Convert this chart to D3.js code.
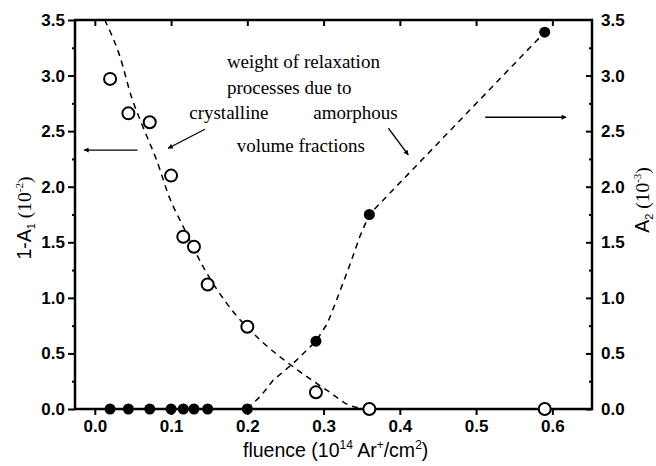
<!DOCTYPE html>
<html>
<head>
<meta charset="utf-8">
<script src="https://cdn.jsdelivr.net/npm/d3@7"></script>
<style>
  body { margin: 0; background: #fff; }
</style>
</head>
<body>
<div id="maViz"></div>
<script>
// donnees
const fluence = [0.02, 0.044, 0.072, 0.1, 0.116, 0.13, 0.148, 0.2, 0.29, 0.36, 0.59];
const crist  = [2.97, 2.66, 2.58, 2.10, 1.55, 1.46, 1.12, 0.74, 0.15, 0.0, 0.0]; // 1-A1 (10^-2)
const amorph = [0, 0, 0, 0, 0, 0, 0, 0, 0.61, 1.75, 3.39];                     // A2 (10^-3)

// courbes en tirets (points releves le long des tirets)
const fitCristX = [0.013, 0.033, 0.048, 0.063, 0.081, 0.098, 0.116, 0.142, 0.173, 0.217, 0.26, 0.304, 0.335, 0.357];
const fitCristY = [3.5, 3.17, 2.81, 2.54, 2.24, 1.90, 1.64, 1.28, 0.95, 0.62, 0.38, 0.17, 0.03, 0.0];
const fitAmorX  = [0.2, 0.218, 0.234, 0.26, 0.29, 0.305, 0.317, 0.333, 0.348, 0.36, 0.59];
const fitAmorY  = [0.0, 0.12, 0.26, 0.41, 0.61, 0.77, 0.98, 1.27, 1.56, 1.75, 3.39];

const xTicks = [0, 0.1, 0.2, 0.3, 0.4, 0.5, 0.6];
const yTicks = [0, 0.5, 1.0, 1.5, 2.0, 2.5, 3.0, 3.5];
const yMinor = [0.25, 0.75, 1.25, 1.75, 2.25, 2.75, 3.25];

// dimensions
const W = 656, H = 466;
const margin = {top: 20, right: 64, bottom: 57, left: 75};
const width = W - margin.left - margin.right;
const height = H - margin.top - margin.bottom;

const svg = d3.select("#maViz").append("svg")
  .attr("width", W).attr("height", H);

const g = svg.append("g")
  .attr("transform", `translate(${margin.left},${margin.top})`);

// echelles
const x = d3.scaleLinear().domain([-0.026, 0.652]).range([0, width]);
const yL = d3.scaleLinear().domain([0, 3.5]).range([height, 0]);
const yR = d3.scaleLinear().domain([0, 3.5]).range([height, 0]);

const fmt = d3.format(".1f");
const tickFont = "Liberation Sans, Arial, sans-serif";
const serif = "Liberation Serif, Times New Roman, serif";

function styleAxis(sel) {
  sel.select(".domain").remove();
  sel.selectAll("line").attr("stroke", "#000").attr("stroke-width", 2);
  sel.selectAll("text")
    .attr("font-family", tickFont)
    .attr("font-size", 17)
    .attr("font-weight", "bold")
    .attr("fill", "#000");
}

// axe X bas
g.append("g")
  .attr("transform", `translate(0,${height})`)
  .call(d3.axisBottom(x).tickValues(xTicks).tickFormat(fmt).tickSize(6).tickPadding(5))
  .call(styleAxis);

// axe X haut (ticks vers l'interieur)
g.append("g")
  .call(d3.axisBottom(x).tickValues(xTicks).tickFormat("").tickSize(6))
  .call(styleAxis);

// axe Y gauche
g.append("g")
  .call(d3.axisLeft(yL).tickValues(yTicks).tickFormat(fmt).tickSize(7).tickPadding(3))
  .call(styleAxis);
g.append("g")
  .call(d3.axisLeft(yL).tickValues(yMinor).tickFormat("").tickSize(3))
  .call(styleAxis);

// axe Y droit (ticks vers l'interieur, labels a droite)
g.append("g")
  .attr("transform", `translate(${width},0)`)
  .call(d3.axisLeft(yR).tickValues(yTicks.filter(d => d < 3.5)).tickFormat("").tickSize(6))
  .call(styleAxis);
g.append("g")
  .attr("transform", `translate(${width},0)`)
  .call(d3.axisLeft(yR).tickValues(yMinor).tickFormat("").tickSize(3))
  .call(styleAxis);
g.append("g")
  .attr("transform", `translate(${width},0)`)
  .call(d3.axisRight(yR).tickValues(yTicks).tickFormat(fmt).tickSize(0).tickPadding(9))
  .call(styleAxis);

// cadre
g.append("rect")
  .attr("width", width).attr("height", height)
  .attr("fill", "none").attr("stroke", "#000").attr("stroke-width", 2.5);

// courbes en tirets
function tirets(path) {
  path.attr("fill", "none").attr("stroke", "#000")
    .attr("stroke-width", 1.5).attr("stroke-dasharray", "6,5");
}
g.append("path")
  .attr("d", d3.line().curve(d3.curveMonotoneX)(fitCristX.map((v, i) => [x(v), yL(fitCristY[i])])))
  .call(tirets);
g.append("path")
  .attr("d", d3.line()(fitAmorX.map((v, i) => [x(v), yR(fitAmorY[i])])))
  .call(tirets);

// points : cercles pleins (A2, axe droit)
g.append("g").selectAll("circle")
  .data(fluence)
  .join("circle")
    .attr("cx", d => x(d))
    .attr("cy", (d, i) => yR(amorph[i]))
    .attr("r", 5.5)
    .attr("fill", "#000");

// points : cercles vides (1-A1, axe gauche)
g.append("g").selectAll("circle")
  .data(fluence)
  .join("circle")
    .attr("cx", d => x(d))
    .attr("cy", (d, i) => yL(crist[i]))
    .attr("r", 6)
    .attr("fill", "#fff")
    .attr("stroke", "#000")
    .attr("stroke-width", 2);

// fleches
svg.append("defs").append("marker")
  .attr("id", "tete")
  .attr("viewBox", "0 0 10 10")
  .attr("refX", 9).attr("refY", 5)
  .attr("markerWidth", 7).attr("markerHeight", 5)
  .attr("markerUnits", "userSpaceOnUse")
  .attr("orient", "auto")
  .append("path")
    .attr("d", "M0,0 L10,5 L0,10 Z")
    .attr("fill", "#000");

const fleches = [
  [[0.056, 2.33], [-0.014, 2.33]],
  [[0.1444, 2.517], [0.0962, 2.346]],
  [[0.385, 2.526], [0.411, 2.286]],
  [[0.512, 2.625], [0.618, 2.625]]
];
g.append("g").selectAll("line")
  .data(fleches)
  .join("line")
    .attr("x1", d => x(d[0][0])).attr("y1", d => yL(d[0][1]))
    .attr("x2", d => x(d[1][0])).attr("y2", d => yL(d[1][1]))
    .attr("stroke", "#000").attr("stroke-width", 1.3)
    .attr("marker-end", "url(#tete)");

// annotations (police serif)
const notes = [
  ["weight of relaxation", 0.1732, 3.068],
  ["processes due to", 0.1732, 2.834],
  ["crystalline", 0.1238, 2.609],
  ["amorphous", 0.2865, 2.609],
  ["volume fractions", 0.186, 2.315]
];
g.append("g").selectAll("text")
  .data(notes)
  .join("text")
    .attr("x", d => x(d[1]))
    .attr("y", d => yL(d[2]))
    .attr("font-family", serif)
    .attr("font-size", 19)
    .attr("fill", "#000")
    .text(d => d[0]);

// titres des axes
const xt = svg.append("text")
  .attr("x", 243).attr("y", 457)
  .attr("font-family", tickFont).attr("font-size", 19.5)
  .attr("fill", "#000");
xt.append("tspan").text("fluence (10");
xt.append("tspan").attr("dy", -8).attr("font-size", 12).text("14");
xt.append("tspan").attr("dy", 8).text(" Ar");
xt.append("tspan").attr("dy", -8).attr("font-size", 12).text("+");
xt.append("tspan").attr("dy", 8).text("/cm");
xt.append("tspan").attr("dy", -8).attr("font-size", 12).text("2");
xt.append("tspan").attr("dy", 8).text(")");

const yt = svg.append("text")
  .attr("transform", "translate(31,218) rotate(-90)")
  .attr("text-anchor", "middle")
  .attr("font-family", tickFont).attr("font-size", 19.5)
  .attr("fill", "#000");
yt.append("tspan").text("1-A");
yt.append("tspan").attr("dy", 4).attr("font-size", 11).text("1");
yt.append("tspan").attr("dy", -4).attr("font-family", serif).text(" (10");
yt.append("tspan").attr("dy", -8).attr("font-size", 11).attr("font-family", serif).text("-2");
yt.append("tspan").attr("dy", 8).attr("font-family", serif).text(")");

const yt2 = svg.append("text")
  .attr("transform", "translate(649,200) rotate(-90)")
  .attr("text-anchor", "middle")
  .attr("font-family", tickFont).attr("font-size", 19.5)
  .attr("fill", "#000");
yt2.append("tspan").text("A");
yt2.append("tspan").attr("dy", 4).attr("font-size", 11).text("2");
yt2.append("tspan").attr("dy", -4).attr("font-family", serif).text(" (10");
yt2.append("tspan").attr("dy", -8).attr("font-size", 11).attr("font-family", serif).text("-3");
yt2.append("tspan").attr("dy", 8).attr("font-family", serif).text(")");
</script>
</body>
</html>
